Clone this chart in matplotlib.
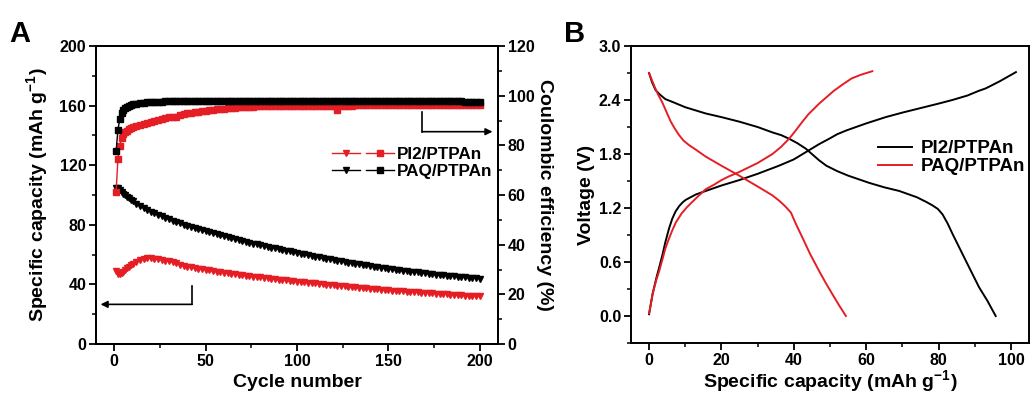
import numpy as np
import matplotlib
matplotlib.use("Agg")
import matplotlib.pyplot as plt
from matplotlib.lines import Line2D
from matplotlib.legend_handler import HandlerTuple
from matplotlib.ticker import MultipleLocator, FormatStrFormatter

plt.rcParams['font.family'] = ['Liberation Sans', 'DejaVu Sans']
plt.rcParams['font.weight'] = 'bold'
plt.rcParams['mathtext.fontset'] = 'custom'
plt.rcParams['mathtext.rm'] = 'Liberation Sans:bold'
plt.rcParams['mathtext.default'] = 'rm'

RED = '#e51e25'
BLACK = '#000000'

# ---------------- Panel A data ----------------
cycles = np.r_[1:11, 12:201:2]

paq_capacity = [
    105.0, 104.5, 103.5, 102.0, 100.8, 99.8, 98.8, 97.8, 96.9, 96.0,
    94.3, 92.8, 91.4, 90.1, 88.9, 87.8, 86.7, 85.6, 84.6, 83.6,
    82.7, 81.8, 80.9, 80.1, 79.3, 78.5, 77.7, 77.0, 76.3, 75.6,
    74.9, 74.2, 73.5, 72.9, 72.2, 71.6, 71.0, 70.4, 69.8, 69.2,
    68.6, 68.0, 67.4, 66.9, 66.3, 65.8, 65.2, 64.7, 64.1, 63.6,
    63.1, 62.6, 62.1, 61.6, 61.1, 60.6, 60.1, 59.6, 59.2, 58.7,
    58.2, 57.8, 57.3, 56.9, 56.4, 56.0, 55.6, 55.2, 54.7, 54.3,
    53.9, 53.5, 53.1, 52.7, 52.3, 52.0, 51.6, 51.2, 50.9, 50.5,
    50.2, 49.8, 49.5, 49.2, 48.9, 48.6, 48.3, 48.0, 47.7, 47.4,
    47.1, 46.9, 46.6, 46.4, 46.1, 45.9, 45.6, 45.4, 45.2, 44.9,
    44.7, 44.5, 44.3, 44.1, 43.8]

pi2_capacity = [
    49.0, 47.2, 46.8, 47.5, 48.5, 49.6, 50.7, 51.8, 52.8, 53.7,
    55.1, 56.2, 57.0, 57.4, 57.5, 57.3, 57.0, 56.5, 56.0, 55.4,
    54.8, 54.2, 53.0, 52.5, 52.0, 51.5, 51.1, 50.6, 50.2, 49.8,
    49.4, 49.0, 48.6, 48.3, 47.9, 47.6, 47.2, 46.9, 46.6, 46.2,
    45.9, 45.6, 45.3, 45.0, 44.7, 44.4, 44.1, 43.8, 43.5, 43.2,
    43.0, 42.7, 42.4, 42.1, 41.9, 41.65, 41.4, 41.2, 40.9, 40.7,
    40.4, 40.2, 39.9, 39.7, 39.4, 39.2, 38.9, 38.7, 38.5, 38.3,
    38.0, 37.8, 37.6, 37.4, 37.2, 36.9, 36.7, 36.5, 36.3, 36.1,
    35.8, 35.7, 35.5, 35.3, 35.2, 35.0, 34.8, 34.7, 34.5, 34.3,
    34.2, 34.0, 33.8, 33.7, 33.5, 33.3, 33.2, 33.0, 32.8, 32.7,
    32.5, 32.4, 32.2, 32.0, 31.9]

pi2_ce = [
    61.3, 74.5, 79.8, 83.0, 84.5, 85.3, 85.9, 86.4, 86.8, 87.2,
    87.8, 88.3, 88.7, 89.1, 89.5, 89.9, 90.3, 90.6, 91.0, 91.3,
    91.6, 91.4, 92.3, 92.6, 92.9, 93.2, 93.4, 93.6, 93.8, 94.0,
    94.2, 94.4, 94.5, 94.7, 94.8, 95.0, 95.1, 95.2, 95.3, 95.4,
    95.5, 95.5, 95.6, 95.7, 95.7, 95.8, 95.8, 95.9, 95.9, 95.9,
    96.0, 96.0, 96.0, 96.0, 96.0, 96.0, 96.0, 96.0, 96.0, 96.0,
    96.0, 96.0, 96.0, 96.0, 96.0, 94.2, 96.0, 96.0, 96.0, 96.0,
    96.1, 96.1, 96.1, 96.1, 96.1, 96.1, 96.1, 96.1, 96.1, 96.1,
    96.1, 96.1, 96.2, 96.2, 96.2, 96.2, 96.2, 96.2, 96.2, 96.2,
    96.3, 96.3, 96.3, 96.3, 96.3, 96.3, 96.3, 96.3, 96.3, 96.3,
    96.3, 96.3, 96.3, 96.3, 96.3]

paq_ce = [
    77.7, 86.2, 90.5, 92.9, 94.2, 95.0, 95.6, 96.0, 96.3, 96.5,
    96.8, 97.0, 97.2, 97.3, 97.4, 97.5, 97.6, 97.6, 97.7, 97.7,
    97.8, 97.8, 97.8, 97.8, 97.8, 97.8, 97.8, 97.8, 97.8, 97.8,
    97.8, 97.8, 97.8, 97.8, 97.8, 97.8, 97.8, 97.8, 97.8, 97.8,
    97.8, 97.8, 97.8, 97.8, 97.8, 97.8, 97.8, 97.8, 97.8, 97.8,
    97.8, 97.8, 97.8, 97.8, 97.8, 97.8, 97.8, 97.8, 97.8, 97.8,
    97.8, 97.8, 97.8, 97.8, 97.8, 97.8, 97.8, 97.8, 97.8, 97.8,
    97.8, 97.8, 97.8, 97.8, 97.8, 97.8, 97.8, 97.8, 97.8, 97.8,
    97.8, 97.8, 97.8, 97.8, 97.8, 97.8, 97.8, 97.8, 97.8, 97.8,
    97.7, 97.7, 97.7, 97.7, 97.7, 97.7, 97.7, 97.7, 97.7, 97.7,
    97.6, 97.6, 97.5, 97.5, 97.4]

# ---------------- Panel B data ----------------
pi2_chg_cap = [0, 0.5, 1.0, 2.0, 2.8, 3.7, 4.5, 5.5, 6.4, 7.3, 8.3, 9.2, 10.1, 11.5,
               12.9, 15.7, 20.0, 24.9, 30.0, 35.9, 40.0, 43.3, 47.0, 49.8, 52.0, 54.4,
               60.0, 65.4, 70.0, 75.0, 80.0, 83.8, 88.0, 91.0, 93.1, 97.0, 101.4]
pi2_chg_v = [0.02, 0.14, 0.25, 0.42, 0.54, 0.68, 0.82, 0.97, 1.08, 1.16, 1.22, 1.26, 1.29,
             1.32, 1.35, 1.39, 1.45, 1.51, 1.58, 1.67, 1.74, 1.82, 1.91, 1.97, 2.02, 2.06,
             2.14, 2.21, 2.26, 2.31, 2.36, 2.40, 2.45, 2.50, 2.53, 2.61, 2.71]
pi2_dis_cap = [0, 0.8, 1.8, 3.0, 4.5, 6.4, 10.0, 15.7, 20.0, 24.9, 30.0, 34.1, 36.5,
               38.7, 41.0, 43.3, 45.0, 47.0, 49.0, 52.0, 55.0, 60.8, 65.0, 69.1, 74.0,
               76.5, 78.3, 79.8, 81.1, 82.5, 83.9, 87.6, 91.2, 93.5, 95.8]
pi2_dis_v = [2.70, 2.60, 2.51, 2.46, 2.41, 2.38, 2.32, 2.25, 2.21, 2.16, 2.10, 2.04, 2.01,
             1.97, 1.92, 1.86, 1.80, 1.73, 1.67, 1.61, 1.56, 1.48, 1.43, 1.39, 1.32,
             1.27, 1.23, 1.19, 1.13, 1.03, 0.91, 0.61, 0.32, 0.17, 0.0]
paq_chg_cap = [0, 0.5, 1.0, 2.0, 2.8, 3.7, 4.5, 5.5, 6.4, 7.4, 9.0, 10.5, 12.0, 13.8,
               15.7, 18.0, 20.0, 22.0, 24.9, 30.0, 34.1, 36.5, 38.7, 40.5, 42.4, 44.0,
               45.5, 47.0, 49.0, 51.0, 53.4, 56.0, 58.5, 61.7]
paq_chg_v = [0.03, 0.13, 0.25, 0.40, 0.50, 0.63, 0.75, 0.86, 0.95, 1.04, 1.14, 1.21, 1.27,
             1.34, 1.41, 1.46, 1.51, 1.55, 1.60, 1.70, 1.80, 1.88, 1.97, 2.06, 2.16, 2.24,
             2.30, 2.36, 2.43, 2.50, 2.57, 2.64, 2.68, 2.72]
paq_dis_cap = [0, 0.7, 1.5, 2.5, 3.7, 5.0, 6.0, 7.0, 8.3, 9.5, 11.0, 12.5, 15.7, 20.0,
               24.9, 30.4, 34.1, 36.0, 37.6, 39.2, 40.5, 42.4, 44.5, 47.0, 48.8, 50.7,
               52.5, 54.4]
paq_dis_v = [2.70, 2.63, 2.55, 2.46, 2.37, 2.25, 2.16, 2.09, 2.01, 1.95, 1.90, 1.86, 1.77,
             1.67, 1.56, 1.43, 1.34, 1.28, 1.22, 1.15, 1.03, 0.87, 0.69, 0.50, 0.37, 0.24,
             0.12, 0.0]

# ---------------- Figure ----------------
fig = plt.figure(figsize=(10.30, 3.96), dpi=100)
axA = fig.add_axes([0.0932, 0.1313, 0.3903, 0.7525])
axA2 = axA.twinx()
axB = fig.add_axes([0.6126, 0.1338, 0.3864, 0.7500])

ms = 5.0
axA.plot(cycles, paq_capacity, color=BLACK, marker='v', ms=ms, lw=1, mec=BLACK, zorder=3)
axA.plot(cycles, pi2_capacity, color=RED, marker='v', ms=ms, lw=1, mec=RED, zorder=3)
axA2.plot(cycles, pi2_ce, color=RED, marker='s', ms=ms - 0.8, lw=1, mec=RED, zorder=3)
axA2.plot(cycles, paq_ce, color=BLACK, marker='s', ms=ms - 0.8, lw=1, mec=BLACK, zorder=4)

axA.set_xlim(-10, 210)
axA.set_ylim(0, 200)
axA2.set_ylim(0, 120)
axA.xaxis.set_major_locator(MultipleLocator(50))
axA.xaxis.set_minor_locator(MultipleLocator(25))
axA.yaxis.set_major_locator(MultipleLocator(40))
axA.yaxis.set_minor_locator(MultipleLocator(20))
axA2.yaxis.set_major_locator(MultipleLocator(20))
axA2.yaxis.set_minor_locator(MultipleLocator(10))

tick_fs = 11.5
lab_fs = 14
for ax in (axA, axA2, axB):
    for sp in ax.spines.values():
        sp.set_linewidth(1.4)
    ax.tick_params(which='major', direction='out', length=5, width=1.3, labelsize=tick_fs, pad=2)
    ax.tick_params(which='minor', direction='out', length=3, width=1.1)
axA.tick_params(axis='y', which='both', right=False)

axA.set_xlabel('Cycle number', fontsize=lab_fs, fontweight='bold', labelpad=4)
axA.set_ylabel(r'Specific capacity (mAh g$^{-1}$)', fontsize=lab_fs, fontweight='bold', labelpad=7)
axA2.set_ylabel('Coulombic efficiency (%)', fontsize=lab_fs, fontweight='bold',
                rotation=270, labelpad=13)

# arrows
axA.annotate('', xy=(207, 142.5), xytext=(168.6, 142.5),
             arrowprops=dict(arrowstyle='-|>', color='black', lw=1.2,
                             shrinkA=0, shrinkB=0, mutation_scale=10))
axA.plot([168.6, 168.6], [156, 142.5], color='black', lw=1.2)
axA.annotate('', xy=(-7.5, 26.6), xytext=(42.6, 26.6),
             arrowprops=dict(arrowstyle='-|>', color='black', lw=1.2,
                             shrinkA=0, shrinkB=0, mutation_scale=10))
axA.plot([42.6, 42.6], [39, 26.6], color='black', lw=1.2)

# legend A
def pair(c):
    return (Line2D([], [], color=c, marker='v', ms=ms - 0.5, lw=1),
            Line2D([], [], color=c, marker='s', ms=ms - 1.2, lw=1))

legA = axA2.legend([pair(RED), pair(BLACK)], ['PI2/PTPAn', 'PAQ/PTPAn'],
                   handler_map={tuple: HandlerTuple(ndivide=None, pad=0.35)},
                   loc='upper right', bbox_to_anchor=(0.985, 0.662), frameon=False,
                   borderaxespad=0, borderpad=0, handlelength=3.6, handletextpad=0.15,
                   labelspacing=0.12, prop={'weight': 'bold', 'size': 12.3})

# Panel B
axB.plot(pi2_chg_cap, pi2_chg_v, color=BLACK, lw=1.4, label='PI2/PTPAn')
axB.plot(pi2_dis_cap, pi2_dis_v, color=BLACK, lw=1.4)
axB.plot(paq_chg_cap, paq_chg_v, color=RED, lw=1.4, label='PAQ/PTPAn')
axB.plot(paq_dis_cap, paq_dis_v, color=RED, lw=1.4)
axB.set_xlim(-5, 105)
axB.set_ylim(-0.3, 3.0)
axB.xaxis.set_major_locator(MultipleLocator(20))
axB.xaxis.set_minor_locator(MultipleLocator(10))
axB.yaxis.set_major_locator(MultipleLocator(0.6))
axB.yaxis.set_minor_locator(MultipleLocator(0.3))
axB.yaxis.set_major_formatter(FormatStrFormatter('%.1f'))
axB.set_xlabel(r'Specific capacity (mAh g$^{-1}$)', fontsize=lab_fs, fontweight='bold', labelpad=0)
axB.set_ylabel('Voltage (V)', fontsize=lab_fs, fontweight='bold', labelpad=3)
axB.legend(loc='upper right', bbox_to_anchor=(0.99, 0.683), frameon=False,
           borderaxespad=0, borderpad=0, handlelength=1.8, handletextpad=0.45,
           labelspacing=0.05, prop={'weight': 'bold', 'size': 13.5})

for ax in (axA, axA2, axB):
    for lbl in ax.get_xticklabels() + ax.get_yticklabels():
        lbl.set_fontweight('bold')

fig.text(0.009, 0.893, 'A', fontsize=21, fontweight='bold')
fig.text(0.548, 0.893, 'B', fontsize=21, fontweight='bold')

fig.savefig('out.png', dpi=100)
